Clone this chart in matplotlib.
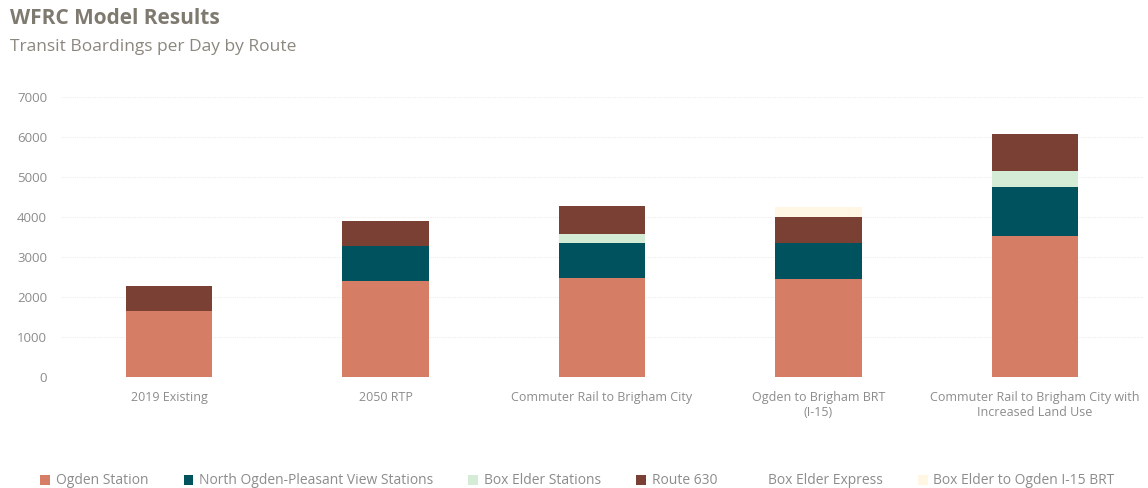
import numpy as np
import matplotlib.pyplot as plt

scenarios = ["2019 Existing", "2050 RTP", "Commuter Rail to Brigham City",
             "Ogden to Brigham BRT\n(I-15)",
             "Commuter Rail to Brigham City with\nIncreased Land Use"]

ogden_station = [1655, 2400, 2480, 2440, 3535]
north_ogden = [0, 875, 875, 900, 1205]
box_elder_stations = [0, 0, 210, 0, 410]
route_630 = [625, 625, 710, 650, 915]
box_elder_express = [0, 0, 0, 0, 0]
box_elder_brt = [0, 0, 0, 265, 0]

series = [
    ("Ogden Station", ogden_station, "#D67D65"),
    ("North Ogden-Pleasant View Stations", north_ogden, "#00525E"),
    ("Box Elder Stations", box_elder_stations, "#D4EBD6"),
    ("Route 630", route_630, "#7B4034"),
    ("Box Elder Express", box_elder_express, "#FFFFFF"),
    ("Box Elder to Ogden I-15 BRT", box_elder_brt, "#FFF7E3"),
]

plt.rcParams['font.family'] = ['Open Sans', 'DejaVu Sans']

fig = plt.figure(figsize=(11.48, 4.88), dpi=100)
ax = fig.add_axes([61 / 1148, 0.2275, 1082 / 1148, 0.5737])

x = np.arange(len(scenarios))
bottom = np.zeros(len(scenarios))
handles = []
for name, vals, color in series:
    vals = np.array(vals, dtype=float)
    b = ax.bar(x, vals, 0.4, bottom=bottom, color=color, label=name, zorder=3)
    handles.append(b)
    bottom += vals

ax.set_xlim(-0.5, len(scenarios) - 0.5)
ax.set_ylim(0, 7000)
ax.set_yticks(range(0, 7001, 1000))
ax.yaxis.grid(True, color="#EEEEEE", linestyle=(0, (1, 1)), linewidth=0.8, zorder=0)
for s in ax.spines.values():
    s.set_visible(False)
ax.tick_params(length=0, colors="#8C8C8C", labelsize=9.5)
ax.tick_params(axis="y", pad=10)
ax.tick_params(axis="x", pad=10)
ax.set_xticks(x)
ax.set_xticklabels(scenarios, color="#8C8C8C", fontsize=9)

fig.text(10 / 1148, 1 - 19 / 488, "WFRC Model Results", fontsize=15, fontweight="bold",
         color="#7F7A70", va="center")
fig.text(10 / 1148, 1 - 47 / 488, "Transit Boardings per Day by Route", fontsize=12.5,
         color="#8C877E", va="center")

leg = fig.legend(handles=handles, loc="center", bbox_to_anchor=(0.503, 1 - 481 / 488),
                 ncol=6, frameon=False, handlelength=0.7, handleheight=0.7,
                 handletextpad=0.4, columnspacing=2.55, fontsize=10)
for t in leg.get_texts():
    t.set_color("#8C8C8C")

fig.savefig("out.png", dpi=100)
